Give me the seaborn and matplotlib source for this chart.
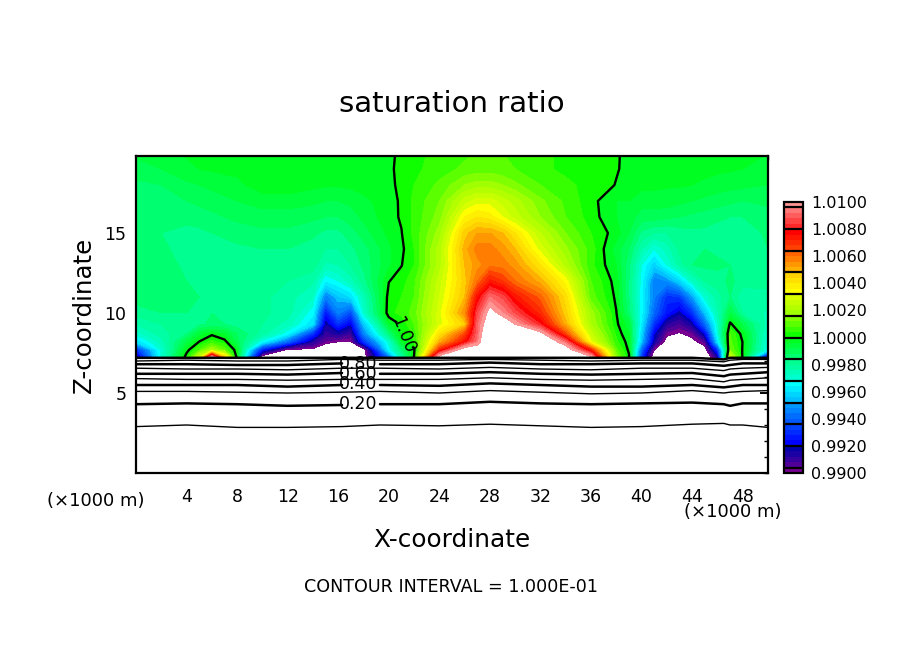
import numpy as np
import matplotlib
matplotlib.use("Agg")
import matplotlib.pyplot as plt
from matplotlib.colors import ListedColormap, BoundaryNorm
from matplotlib.cm import ScalarMappable
from matplotlib.ticker import MultipleLocator
import seaborn as sns

# Horizontal positions (km) and heights (km) of the saturation field samples
x_km = [0, 2, 4, 5, 6, 7, 8, 10, 12, 14, 15, 16, 17, 18, 20, 21, 22, 24, 26, 27, 28, 29, 30,
        32, 34, 36, 38, 39, 40, 41, 42, 43, 44, 45, 46, 47, 48, 50]
z_km = [7.2, 7.7, 8.2, 8.7, 9.3, 10, 11, 12, 13, 14, 15, 16, 17, 18, 19, 20]

# Saturation ratio excess, (S - 1) * 1000, at each height
s_72 = [-9, -3, .3, 3, 11, 5, -.2, -11, -11, -11, -11, -11, -11, -10.5, -6, -2.5, .05, 11, 11, 11, 11, 11, 11,
        11, 11, 10.5, 1.5, .1, -7, -11, -11, -11, -11, -11, -9, 3, -.1, -9]
s_77 = [-7, -3, -.2, .8, 2, 1, -.3, -7.5, -10.2, -10.2, -11, -11, -11, -10.5, -3.5, -1.5, -.1, 7, 11, 11, 11, 11, 11,
        11, 11, 7, .9, -.1, -6, -10, -11, -11, -11, -10.5, -7, 1.2, -.05, -3.5]
s_82 = [-4, -2.6, -.8, 0.02, .5, .2, -1, -3.5, -6, -8.8, -9.7, -10, -10, -7, -3, -.4, .4, 5, 7.5, 9.3, 12, 12, 12,
        12, 9, 3.2, .5, -.2, -4.5, -8.5, -10.5, -10.5, -10.3, -9.5, -4, .9, -.02, -3.2]
s_87 = [-3, -2.2, -1.6, -.6, -.1, -.5, -1.2, -2.2, -3.5, -7, -9, -8.6, -9.2, -5.5, -1.6, -.02, .5, 4, 6.5, 9, 12, 12, 12,
        10.5, 6.5, 2.6, .3, -.4, -4.2, -8, -9.8, -10.1, -9.7, -8, -3.2, .8, -.2, -3]
s_93 = [-2.4, -2, -1.8, -1.7, -1.5, -1.6, -1.8, -2, -2.6, -4, -8.5, -7, -8, -4.5, -.5, .1, .8, 3, 4.5, 9, 11, 11, 10,
        8, 5, 2, .1, -.6, -3.8, -7, -8.8, -9.3, -8.5, -6, -3, .15, -.9, -2.6]
s_100 = [-1.8, -1.6, -1.6, -1.6, -1.6, -1.6, -1.6, -1.9, -2.2, -3.5, -7.5, -5.5, -6.5, -3, .3, .5, 1, 3, 5.5, 8.5, 10.5, 9.6, 8.6,
         7, 4.5, 1.8, .02, -1.4, -3.5, -6, -7.5, -8.3, -7, -4.5, -2.5, -.8, -2, -2.5]
s_110 = [-1.4, -1.4, -1.5, -1.6, -1.7, -1.7, -1.7, -1.9, -2.2, -2.8, -5.5, -4.5, -4, -2.6, .2, .4, .8, 2.8, 4.8, 7.5, 9.2, 8.6, 7.4,
         6.2, 4.2, 1, -.1, -1.6, -3.5, -5.5, -7, -6.8, -5, -3, -2.2, -1.6, -2.3, -2.2]
s_120 = [-1.3, -1.4, -1.6, -1.7, -1.8, -1.8, -1.7, -1.8, -2, -2.3, -3.6, -3.2, -2.6, -1.8, -.02, .2, .7, 2.6, 4.6, 6, 7.3, 6.8, 6,
         5, 3.4, .8, -.2, -1.6, -3.4, -5.5, -5.2, -4.2, -2.8, -2, -1.8, -1.5, -1.8, -1.8]
s_130 = [-1.3, -1.4, -1.7, -1.9, -2, -1.9, -1.8, -1.7, -1.8, -1.8, -2.5, -2.4, -2, -1.5, -.5, -.02, .4, 2.2, 4.8, 5.4, 5.9, 5.8, 5.4,
         4, 2.2, .5, -.4, -1.5, -3.2, -4.3, -3.2, -2.2, -1.6, -1.5, -1.5, -1.6, -1.7, -1.7]
s_140 = [-1.4, -1.5, -1.8, -1.9, -1.9, -1.8, -1.7, -1.6, -1.6, -1.8, -2, -2, -1.7, -1.4, -.5, -.1, .4, 2.2, 5, 5.8, 5.8, 5.4, 4.8,
         3, 1.7, .6, -.6, -1.2, -2.4, -3.2, -2.6, -1.9, -1.6, -1.6, -1.7, -2, -2, -1.6]
s_150 = [-1.5, -1.6, -1.7, -1.7, -1.6, -1.5, -1.4, -1.3, -1.3, -1.5, -1.7, -1.7, -1.4, -1, -.3, -.02, .5, 1.8, 4.6, 5.2, 5.2, 4.8, 4,
         2.4, 1.2, .4, -.2, -.8, -1.7, -2, -2, -1.8, -1.7, -1.7, -1.8, -1.9, -1.9, -1.5]
s_160 = [-1.5, -1.5, -1.5, -1.4, -1.3, -1.2, -1.1, -1, -1, -1.1, -1.2, -1.2, -1, -.7, -.15, .05, .5, 1.4, 3.6, 4, 3.8, 3.2, 2.6,
         1.6, .8, .2, -.4, -.6, -1, -1, -1.1, -1.2, -1.3, -1.4, -1.5, -1.6, -1.6, -1.4]
s_170 = [-1.4, -1.4, -1.2, -1.1, -1, -.9, -.8, -.6, -.6, -.7, -.8, -.8, -.7, -.5, -.2, .08, .5, 1.2, 2.6, 3, 3, 2.6, 2.2,
         1.3, .7, .15, -.4, -.4, -.6, -.6, -.6, -.7, -.8, -.9, -1, -1.1, -1.2, -1.1]
s_180 = [-1.3, -1.2, -.9, -.8, -.7, -.6, -.5, -.2, -.15, -.3, -.35, -.35, -.3, -.25, -.1, .1, .4, .9, 1.6, 1.8, 1.8, 1.6, 1.3,
         .8, .5, .25, -.02, -.15, -.3, -.3, -.35, -.35, -.4, -.5, -.6, -.65, -.7, -.8]
s_190 = [-1, -.8, -.5, -.4, -.35, -.3, -.3, -.2, -.2, -.2, -.2, -.2, -.2, -.2, -.1, .15, .3, .6, .9, 1, 1, .9, .8,
         .5, .3, .2, .03, -.1, -.2, -.2, -.2, -.2, -.2, -.25, -.3, -.35, -.4, -.5]
s_200 = [-.7, -.5, -.35, -.3, -.3, -.25, -.25, -.2, -.2, -.2, -.2, -.2, -.2, -.2, -.1, .1, .3, .5, .7, .8, .8, .8, .7,
         .5, .3, .1, .02, -.05, -.15, -.15, -.2, -.2, -.2, -.2, -.25, -.3, -.3, -.4]

# Heights (km) of the lower contours
line_x = [0, 4, 8, 12, 16.3, 19.3, 24, 28, 32, 36, 40, 44, 46.5, 47, 48, 50]
h_010 = [2.9, 3.0, 2.85, 2.85, 2.9, 3.0, 2.95, 3.05, 2.95, 2.85, 2.9, 3.05, 3.1, 3.0, 3.0, 2.85]
h_020 = [4.3, 4.35, 4.3, 4.2, 4.25, 4.3, 4.3, 4.45, 4.35, 4.3, 4.35, 4.4, 4.3, 4.2, 4.35, 4.35]
h_030 = [5.1, 5.1, 5.05, 5.0, 5.05, 5.1, 5.0, 5.15, 5.05, 4.95, 5.0, 5.15, 5.0, 5.05, 5.1, 5.15]
h_040 = [5.5, 5.5, 5.5, 5.4, 5.5, 5.5, 5.45, 5.6, 5.5, 5.4, 5.4, 5.5, 5.35, 5.4, 5.5, 5.5]
h_050 = [5.9, 5.85, 5.85, 5.8, 5.85, 5.85, 5.85, 5.95, 5.85, 5.8, 5.85, 5.9, 5.7, 5.8, 5.85, 5.95]
h_060 = [6.2, 6.2, 6.2, 6.15, 6.25, 6.2, 6.2, 6.3, 6.2, 6.15, 6.2, 6.25, 6.05, 6.15, 6.2, 6.3]
h_070 = [6.55, 6.5, 6.5, 6.45, 6.55, 6.55, 6.5, 6.6, 6.5, 6.45, 6.55, 6.55, 6.4, 6.5, 6.55, 6.6]
h_080 = [6.8, 6.8, 6.75, 6.75, 6.85, 6.8, 6.8, 6.9, 6.8, 6.8, 6.85, 6.85, 6.7, 6.75, 6.85, 6.85]
h_090 = [7.0, 7.05, 7.0, 7.0, 7.1, 7.05, 7.05, 7.1, 7.05, 7.0, 7.05, 7.05, 6.95, 7.05, 7.1, 7.1]
h_100 = [7.2, 7.2, 7.2, 7.2, 7.2, 7.2, 7.2, 7.2, 7.2, 7.2, 7.2, 7.2, 7.1, 7.2, 7.2, 7.2]

x_ticks = [4, 8, 12, 16, 20, 24, 28, 32, 36, 40, 44, 48]
z_ticks = [5, 10, 15]
bar_ticks = [0.990, 0.992, 0.994, 0.996, 0.998, 1.000, 1.002, 1.004, 1.006, 1.008, 1.010]

# Colour groups of the legend bar, lowest to highest, each a start and end colour and a band count
color_groups = [
    ("#780090", "#780090", 1),
    ("#500096", "#0000aa", 4),
    ("#0000ff", "#0040ff", 4),
    ("#0058ff", "#0098ff", 4),
    ("#00c0ff", "#00ffff", 4),
    ("#00ffd0", "#00ff90", 4),
    ("#00ff70", "#00ff20", 4),
    ("#10ff00", "#80ff00", 4),
    ("#a0ff00", "#d8ff00", 4),
    ("#ffff00", "#ffd000", 4),
    ("#ffb000", "#ff6400", 4),
    ("#ff4000", "#ff0000", 4),
    ("#ff2828", "#ff7878", 4),
    ("#ff9696", "#ff9696", 1),
]

sns.set_theme(style="white")
plt.rcParams["font.family"] = ["DejaVu Sans"]

band_colors = []
for c0, c1, n in color_groups:
    band_colors += list(sns.blend_palette([c0, c1], n_colors=n)) if n > 1 else [c0]
cmap = ListedColormap(band_colors)
levels = np.linspace(0.99, 1.01, 51)
norm = BoundaryNorm(levels, cmap.N)

field = 1 + np.array([s_72, s_77, s_82, s_87, s_93, s_100, s_110, s_120, s_130, s_140,
                      s_150, s_160, s_170, s_180, s_190, s_200]) / 1000.0

fig = plt.figure(figsize=(9.04, 6.54), dpi=100, facecolor="white")
W, H = 904.0, 654.0
ax = fig.add_axes([136 / W, 1 - 473 / H, (768 - 136) / W, (473 - 156) / H])

ax.contourf(x_km, z_km, field, levels=levels, cmap=cmap, norm=norm, extend="neither", antialiased=False)
cs = ax.contour(x_km, z_km, field, levels=[1.0], colors="black", linewidths=1.7)
ax.clabel(cs, fmt="%.2f", manual=[(21.4, 8.7)], fontsize=12.5, inline=True, inline_spacing=1, colors="black")

for h, lw, labelled in [(h_010, 1.0, False), (h_030, 1.0, False), (h_050, 1.0, False), (h_070, 1.0, False),
                        (h_090, 1.0, False), (h_020, 1.8, True), (h_040, 1.8, True), (h_060, 1.8, True),
                        (h_080, 1.8, True), (h_100, 1.8, False)]:
    hh = np.array(h, dtype=float)
    lx = np.array(line_x)
    if labelled:
        left = lx <= 16.3
        right = lx >= 19.3
        ax.plot(lx[left], hh[left], color="black", lw=lw)
        ax.plot(lx[right], hh[right], color="black", lw=lw)
    else:
        ax.plot(lx, hh, color="black", lw=lw)

for label, z in [("0.20", 4.3), ("0.40", 5.55), ("0.60", 6.2), ("0.80", 6.8)]:
    ax.text(17.56, z, label, ha="center", va="center", fontsize=12.5, color="black")

ax.set_xlim(0, 50)
ax.set_ylim(0, (473 - 156) / 16.0)
ax.set_xticks(x_ticks)
ax.set_yticks(z_ticks)
ax.xaxis.set_minor_locator(MultipleLocator(2))
ax.yaxis.set_minor_locator(MultipleLocator(1))
ax.tick_params(which="major", direction="in", length=6, width=1.4, top=True, right=True,
               labelsize=12.5, colors="black", pad=11)
ax.tick_params(which="minor", direction="in", length=3, width=1.0, top=True, right=True, colors="black")
ax.tick_params(axis="y", which="major", pad=7)
for s in ax.spines.values():
    s.set_linewidth(1.6)
    s.set_color("black")
    s.set_visible(True)

fig.text(452 / W, 1 - 104 / H, "saturation ratio", ha="center", va="center", fontsize=21, color="black")
fig.text(452 / W, 1 - 540 / H, "X-coordinate", ha="center", va="center", fontsize=17.8, color="black")
fig.text(84 / W, 1 - 315 / H, "Z-coordinate", ha="center", va="center", rotation=90, fontsize=17.6, color="black")
fig.text(96 / W, 1 - 501 / H, "(×1000 m)", ha="center", va="center", fontsize=13, color="black")
fig.text(733 / W, 1 - 512 / H, "(×1000 m)", ha="center", va="center", fontsize=13, color="black")
fig.text(451 / W, 1 - 587 / H, "CONTOUR INTERVAL = 1.000E-01", ha="center", va="center", fontsize=12.6, color="black")

cax = fig.add_axes([784 / W, 1 - 473 / H, 19 / W, (473 - 202) / H])
cb = fig.colorbar(ScalarMappable(norm=norm, cmap=cmap), cax=cax, ticks=bar_ticks, spacing="proportional")
cb.ax.set_yticklabels(["%.4f" % t for t in bar_ticks])
cb.ax.minorticks_off()
cb.ax.tick_params(which="both", length=0, labelsize=11.5, colors="black", pad=6)
cb.outline.set_linewidth(1.6)
cb.outline.set_edgecolor("black")
cb.ax.hlines(1 + 0.0016 * np.arange(-6, 7), 0, 1, colors="black", linewidth=1.6, transform=cb.ax.get_yaxis_transform())

fig.savefig("out.png", dpi=100, facecolor="white")
